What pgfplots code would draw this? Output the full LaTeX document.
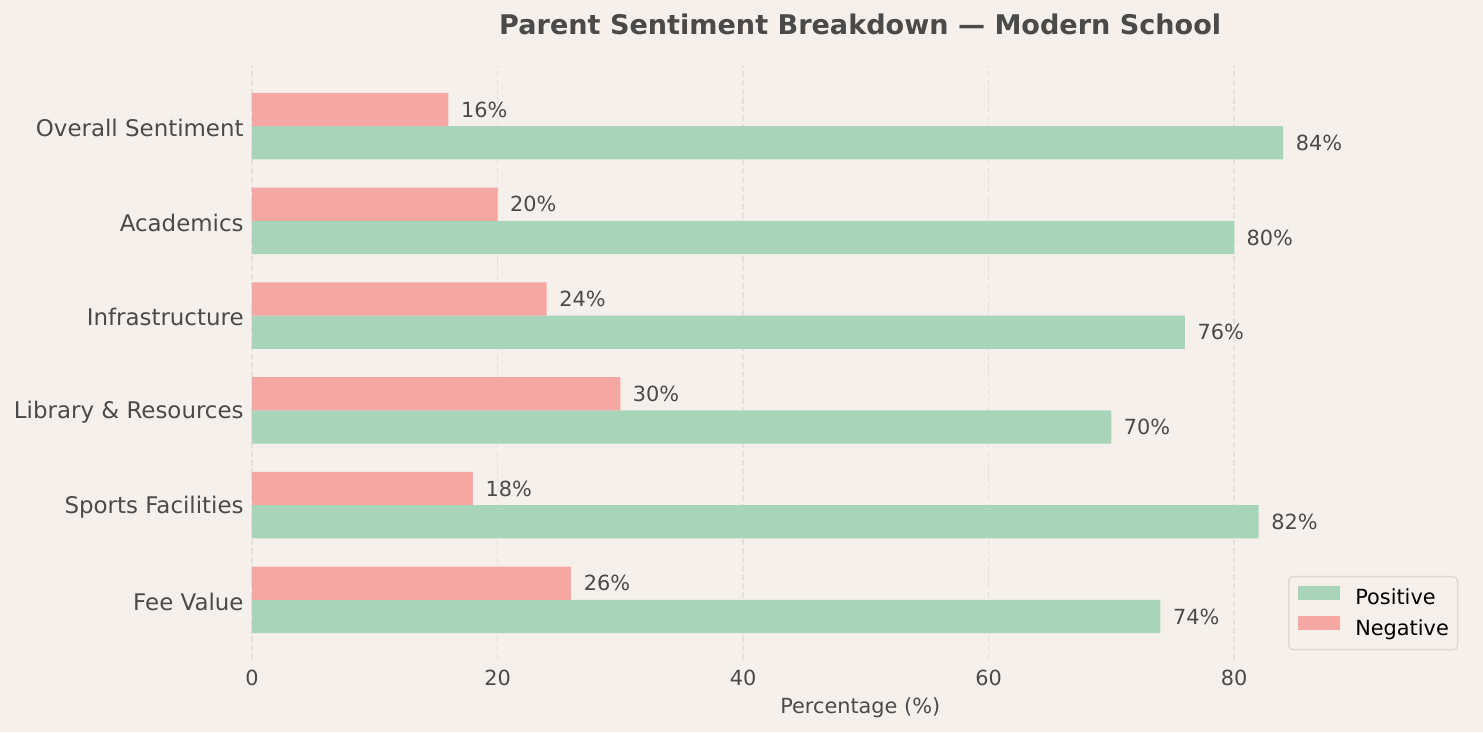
\documentclass[border=0pt]{standalone}
\usepackage{fontspec}
\setmainfont{DejaVu Sans}
\usepackage{pgfplots}
\pgfplotsset{compat=1.18}
\definecolor{bg}{HTML}{F5F0EB}
\definecolor{txt}{HTML}{4A4A4A}
\definecolor{posc}{HTML}{A8D5BA}
\definecolor{negc}{HTML}{F5A7A3}
\definecolor{gridc}{HTML}{E6E0DA}
\definecolor{legbd}{HTML}{DDD8D2}
\begin{document}
\begin{tikzpicture}
\path[fill=bg, use as bounding box] (-120.96pt,-34.56pt) rectangle (590.88pt,316.8pt);
\begin{axis}[
  scale only axis, width=583.92pt, height=285.12pt,
  xbar, bar width=0.35,
  xmin=0, xmax=99.1, ymin=-0.635, ymax=5.635,
  xtick={0,20,40,60,80},
  ytick={0,1,2,3,4,5},
  yticklabels={Fee Value,Sports Facilities,Library \& Resources,Infrastructure,Academics,Overall Sentiment},
  axis line style={draw=none},
  major tick length=0pt,
  xmajorgrids, ymajorgrids=false,
  major grid style={gridc, line width=0.8pt, dash pattern=on 2.96pt off 1.28pt},
  tick label style={txt},
  xticklabel style={font=\fontsize{10}{12}\selectfont, anchor=base, inner sep=0pt, yshift=-12pt},
  yticklabel style={font=\fontsize{11}{13.2}\selectfont, anchor=east, inner sep=0pt, xshift=-3.84pt, yshift=-0.8pt},
  xlabel={Percentage (\%)},
  xlabel style={font=\fontsize{10}{12}\selectfont, txt, at={(axis description cs:0.5,0)}, anchor=base, yshift=-25.44pt, inner sep=0pt},
  title={Parent Sentiment Breakdown — Modern School},
  every axis title shift=0pt,
  title style={font=\bfseries\fontsize{13}{15.6}\selectfont, txt, at={(axis description cs:0.5,1)}, anchor=base, yshift=14.88pt, inner sep=0pt},
  point meta=x,
  nodes near coords={\pgfmathprintnumber{\pgfplotspointmeta}\%},
  nodes near coords style={font=\fontsize{10}{12}\selectfont, txt, anchor=west, inner sep=0pt, xshift=5.89pt},
  legend style={at={(axis description cs:1,0)}, anchor=south east, xshift=-4.9pt, yshift=4.6pt,
    draw=legbd, line width=0.7pt, fill=bg, rounded corners=2pt,
    font=\fontsize{10}{12}\selectfont, text=black,
    inner xsep=4.2pt, inner ysep=4.3pt, row sep=3pt,
    /tikz/every odd column/.append style={column sep=7.5pt},
    nodes={inner sep=0pt, text height=7.5pt, text depth=2.5pt}},
  legend cell align=left,
  /pgf/number format/assume math mode=true,
]
\addplot[fill=posc, draw=none, bar shift=-0.175,
  legend image code/.code={\fill[posc, sharp corners] (0pt,0pt) rectangle (20.2pt,6.72pt);}]
  coordinates {(74,0) (82,1) (70,2) (76,3) (80,4) (84,5)};
\addplot[fill=negc, draw=none, bar shift=0.175,
  legend image code/.code={\fill[negc, sharp corners] (0pt,0pt) rectangle (20.2pt,6.72pt);}]
  coordinates {(26,0) (18,1) (30,2) (24,3) (20,4) (16,5)};
\legend{Positive, Negative}
\end{axis}
\end{tikzpicture}
\end{document}
